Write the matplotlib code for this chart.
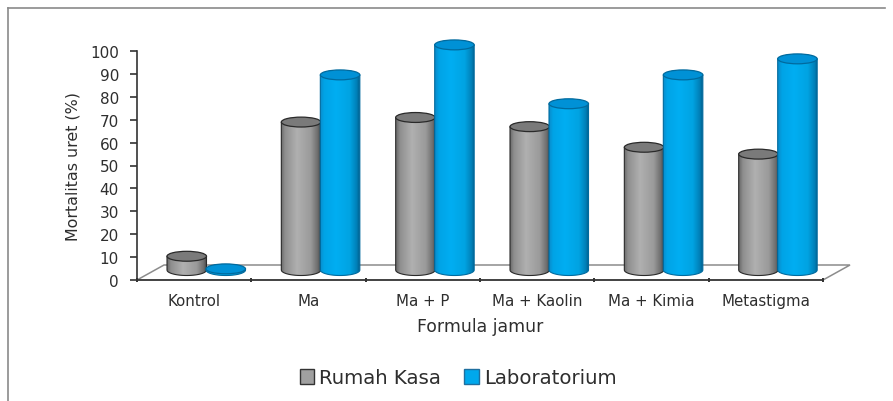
import matplotlib
matplotlib.use("Agg")
import numpy as np
import matplotlib.pyplot as plt
from matplotlib.colors import LinearSegmentedColormap
from matplotlib.lines import Line2D
from matplotlib.patches import Ellipse, Patch, PathPatch, Polygon
from matplotlib.path import Path

categories = ["Kontrol", "Ma", "Ma + P", "Ma + Kaolin", "Ma + Kimia", "Metastigma"]
rumah_kasa = [6, 64.6, 66.6, 62.6, 53.6, 50.6]
laboratorium = [0.5, 85.2, 98.3, 72.6, 85.2, 92.2]
y_ticks = list(range(0, 101, 10))

W, H = 893, 402
fig = plt.figure(figsize=(W / 100, H / 100), dpi=100, facecolor="white")
L, R, T, B = 137, 823, 52, 281
ax = fig.add_axes([L / W, 1 - B / H, (R - L) / W, (B - T) / H])
ax.set_xlim(0, 6)
ax.set_ylim(0, 100)
ax.patch.set_alpha(0)
px = 6 / (R - L)      # data units per pixel, x
py = 100 / (B - T)    # data units per pixel, y

# frame of the picture
for xs, ys in (([8, 8], [402, 9]), ([8, 885], [9, 9])):
    fig.add_artist(Line2D([x / W for x in xs], [1 - y / H for y in ys], color="#8a8a8a", lw=1.2))

# floor
floor = Polygon([(0, 0), (27 * px, 15 * py), ((R - L + 27) * px, 15 * py), (6, 0)],
                closed=True, fc="white", ec="#8c8c8c", lw=1.1, clip_on=False, zorder=1)
ax.add_patch(floor)

base = 10 * py
bw = 39.5 * px
ry = 5.5 * py

gray_cmap = LinearSegmentedColormap.from_list(
    "g", [(0, "#6a6a6a"), (0.1, "#8f8f8f"), (0.4, "#b0b0b0"), (0.75, "#9a9a9a"), (0.92, "#6e6e6e"), (1, "#454545")])
blue_cmap = LinearSegmentedColormap.from_list(
    "b", [(0, "#0a8ccb"), (0.1, "#00a3e6"), (0.4, "#00aef2"), (0.75, "#00a3e2"), (0.92, "#0080b8"), (1, "#005f8c")])
grad = np.linspace(0, 1, 128)[None, :]


def cylinder(x0, v, cmap, top, edge, z):
    y0 = base
    y1 = base + v
    xc = x0 + bw / 2
    t = np.linspace(np.pi, 2 * np.pi, 40)
    xs = xc + bw / 2 * np.cos(t)
    ys = y0 + ry * np.sin(t)
    verts = list(zip(xs, ys)) + [(x0 + bw, y1), (x0, y1), (x0, y0)]
    path = Path(verts, closed=False)
    im = ax.imshow(grad, cmap=cmap, extent=(x0, x0 + bw, y0 - ry, y1), aspect="auto", zorder=z)
    patch = PathPatch(path, transform=ax.transData, fc="none", ec=edge, lw=0.8, zorder=z + 0.1, clip_on=False)
    ax.add_patch(patch)
    im.set_clip_path(patch)
    im.set_clip_box(fig.bbox)
    ax.add_patch(Ellipse((xc, y1), bw, 2 * ry * 0.9, fc=top, ec=edge, lw=0.9, zorder=z + 0.2, clip_on=False))


for i, (g, b) in enumerate(zip(rumah_kasa, laboratorium)):
    x_g = i + 30 * px
    cylinder(x_g, g, gray_cmap, "#7a7a7a", "#2a2a2a", 3 + i)
    cylinder(x_g + bw - 0.5 * px, b, blue_cmap, "#0091d6", "#006a9e", 3.5 + i)

ax.set_xlim(0, 6)
ax.set_ylim(0, 100)

for s in ("top", "right"):
    ax.spines[s].set_visible(False)
for s in ("left", "bottom"):
    ax.spines[s].set_color("#333333")
    ax.spines[s].set_linewidth(1.2)
    ax.spines[s].set_zorder(20)

TXT = "#2e2e2e"
ax.set_yticks(y_ticks)
ax.set_xticks(range(7))
ax.set_xticklabels([])
ax.set_xticks(np.arange(6) + 0.5, labels=categories, minor=True)
ax.tick_params(axis="x", which="minor", length=0, labelsize=10.8, labelcolor=TXT, pad=9.5)
ax.tick_params(axis="x", which="major", length=2.5, width=1.4, color="#333333", direction="inout")
ax.tick_params(axis="y", length=5, width=1.2, color="#333333", labelsize=11, labelcolor=TXT, pad=8)
ax.set_xlabel("Formula jamur", fontsize=12.4, color=TXT, labelpad=6)
ax.set_ylabel("Mortalitas uret (%)", fontsize=11.4, color=TXT, labelpad=6.7)

fig.legend(handles=[Patch(fc="#a0a0a0", ec="#333333", label="Rumah Kasa"),
                    Patch(fc="#00a8ec", ec="#1f6f9f", label="Laboratorium")],
           loc="center", bbox_to_anchor=(458 / W, 1 - 379 / H), ncol=2, frameon=False,
           fontsize=14.2, handlelength=0.75, handleheight=0.75, handletextpad=0.25,
           columnspacing=1.15, labelcolor=TXT)

fig.savefig("out.png", dpi=100, facecolor="white")
